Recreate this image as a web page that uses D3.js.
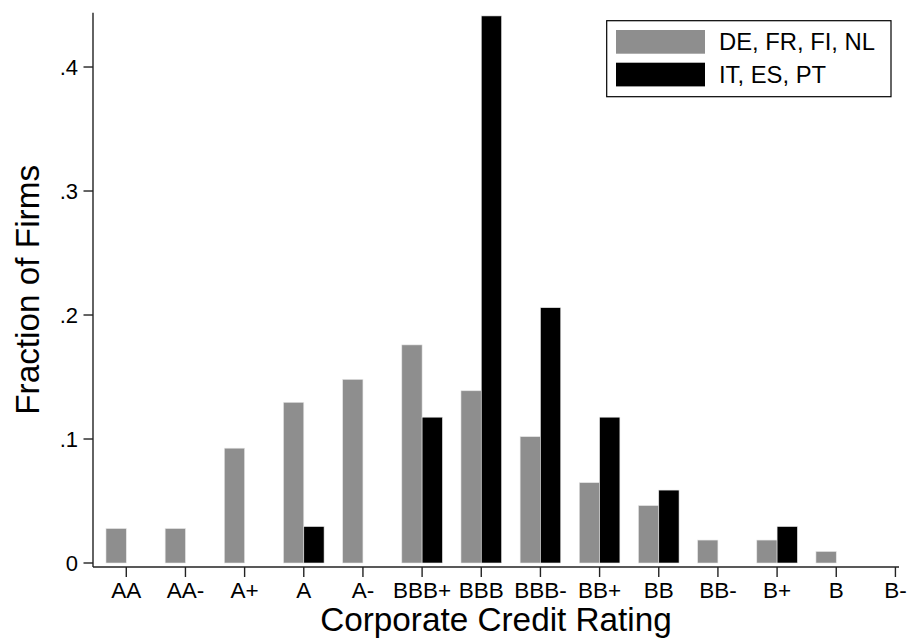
<!DOCTYPE html>
<html>
<head>
<meta charset="utf-8">
<script src="https://cdn.jsdelivr.net/npm/d3@7"></script>
<style>
  html, body { margin: 0; padding: 0; background: #fff; }
  svg { display: block; font-family: "Liberation Sans", Arial, Helvetica, sans-serif; }
</style>
</head>
<body>
<svg id="chart" width="909" height="641"></svg>
<script>
// Rating categories along the x axis
const ratings = ["AA", "AA-", "A+", "A", "A-", "BBB+", "BBB", "BBB-", "BB+", "BB", "BB-", "B+", "B", "B-"];
// Series names
const seriesNames = ["DE, FR, FI, NL", "IT, ES, PT"];
// Fraction of firms per rating, core countries
const coreValues = [0.0278, 0.0278, 0.0926, 0.1296, 0.1481, 0.1759, 0.1389, 0.1019, 0.0648, 0.0463, 0.0185, 0.0185, 0.0093, 0];
// Fraction of firms per rating, periphery countries
const peripheryValues = [0, 0, 0, 0.0294, 0, 0.1176, 0.4412, 0.2059, 0.1176, 0.0588, 0, 0.0294, 0, 0];
// Y axis ticks
const yTicks = [0, 0.1, 0.2, 0.3, 0.4];
const yMax = 0.4438;
const seriesColors = ["#8e8e8e", "#000000"];

const svg = d3.select("#chart");
const axisColor = "#222";

const x = d3.scaleBand().domain(ratings).range([96.7, 925.0]).padding(0);
const xSub = d3.scaleBand().domain(seriesNames).range([0, x.bandwidth()]).paddingInner(0).paddingOuter(0.457);
const y = d3.scaleLinear().domain([0, yMax]).range([563, 12.7]);
const axisY = 567;   // x axis sits slightly below the zero line
const axisX = 93;

// Bars
const rows = ratings.map((r, i) => ({ rating: r, values: [coreValues[i], peripheryValues[i]] }));
const groups = svg.append("g").selectAll("g").data(rows).join("g")
  .attr("transform", d => `translate(${x(d.rating)},0)`);
groups.selectAll("rect")
  .data(d => d.values.map((v, k) => ({ name: seriesNames[k], value: v, k })).filter(e => e.value > 0))
  .join("rect")
  .attr("x", e => xSub(e.name))
  .attr("width", xSub.bandwidth())
  .attr("y", e => y(e.value))
  .attr("height", e => y(0) - y(e.value))
  .attr("fill", e => seriesColors[e.k])
  .attr("stroke", "#e6e6e6")
  .attr("stroke-width", 0.6);

// Y axis
const yAxis = svg.append("g");
yAxis.append("line")
  .attr("x1", axisX).attr("x2", axisX)
  .attr("y1", y(yMax)).attr("y2", axisY)
  .attr("stroke", axisColor).attr("stroke-width", 1.4);
const yt = yAxis.selectAll("g.tick").data(yTicks).join("g").attr("class", "tick")
  .attr("transform", d => `translate(0,${y(d)})`);
yt.append("line").attr("x1", axisX - 9.5).attr("x2", axisX).attr("stroke", axisColor).attr("stroke-width", 1.4);
yt.append("text")
  .attr("x", axisX - 15).attr("dy", "0.36em")
  .attr("text-anchor", "end").attr("font-size", 22).attr("fill", "#000")
  .text(d => d === 0 ? "0" : d3.format(".1f")(d).replace(/^0/, ""));

// X axis
const xAxis = svg.append("g");
xAxis.append("line")
  .attr("x1", axisX).attr("x2", 899)
  .attr("y1", axisY).attr("y2", axisY)
  .attr("stroke", axisColor).attr("stroke-width", 1.4);
const xt = xAxis.selectAll("g.tick").data(ratings).join("g").attr("class", "tick")
  .attr("transform", d => `translate(${x(d) + x.bandwidth() / 2},0)`);
xt.append("line").attr("y1", axisY).attr("y2", axisY + 10).attr("stroke", axisColor).attr("stroke-width", 1.4);
xt.append("text")
  .attr("y", 597.5).attr("text-anchor", "middle").attr("font-size", 22.5).attr("fill", "#000")
  .text(d => d);

// Axis titles
svg.append("text")
  .attr("x", (axisX + 899) / 2).attr("y", 631)
  .attr("text-anchor", "middle").attr("font-size", 33.3).attr("fill", "#000")
  .text("Corporate Credit Rating");
svg.append("text")
  .attr("transform", `translate(38.5,${(y(yMax) + axisY) / 2}) rotate(-90)`)
  .attr("text-anchor", "middle").attr("font-size", 33.3).attr("fill", "#000")
  .text("Fraction of Firms");

// Legend
const legend = svg.append("g");
legend.append("rect")
  .attr("x", 606.7).attr("y", 20.7).attr("width", 284.3).attr("height", 76)
  .attr("fill", "#fff").attr("stroke", "#000").attr("stroke-width", 1.2);
const li = legend.selectAll("g.item").data(seriesNames).join("g").attr("class", "item")
  .attr("transform", (d, i) => `translate(0,${i * 32.7})`);
li.append("rect")
  .attr("x", 616).attr("y", 30).attr("width", 89).attr("height", 23.7)
  .attr("fill", (d, i) => seriesColors[i]);
li.append("text")
  .attr("x", 719).attr("y", 50.3).attr("font-size", 23.8).attr("fill", "#000")
  .text(d => d);
</script>
</body>
</html>
